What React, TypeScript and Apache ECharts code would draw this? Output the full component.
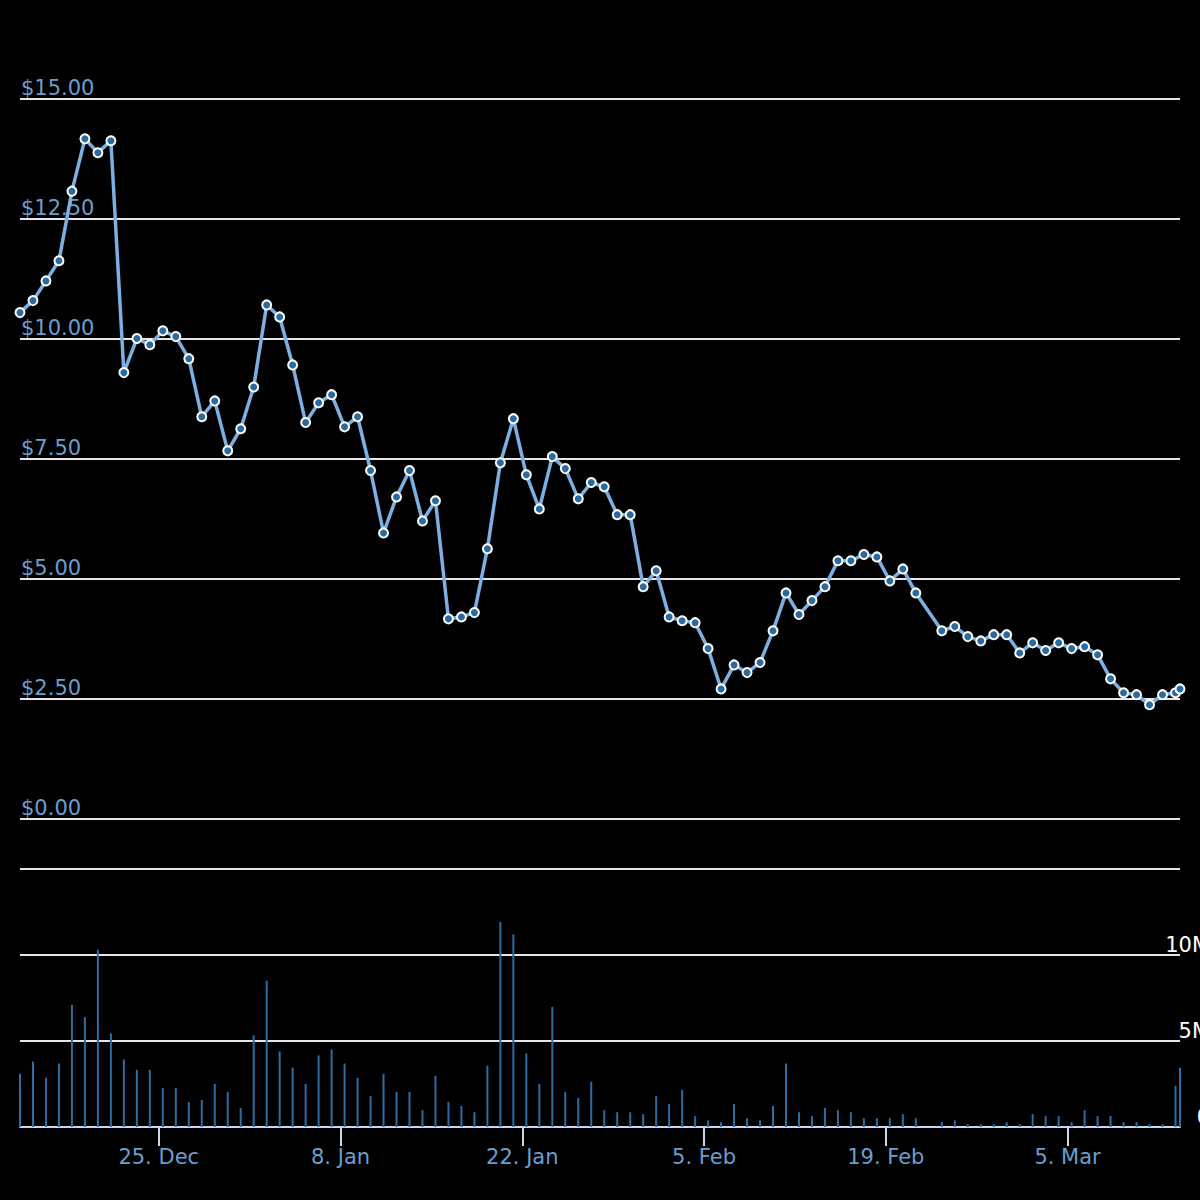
import React, { useEffect, useRef } from "react";
import * as echarts from "echarts";

// Trading timestamps (UTC); Feb 22 missing; last entry is an intraday point
const dates: string[] = [
  "2017-12-14T07:30:00Z", "2017-12-15T07:30:00Z", "2017-12-16T07:30:00Z", "2017-12-17T07:30:00Z",
  "2017-12-18T07:30:00Z", "2017-12-19T07:30:00Z", "2017-12-20T07:30:00Z", "2017-12-21T07:30:00Z",
  "2017-12-22T07:30:00Z", "2017-12-23T07:30:00Z", "2017-12-24T07:30:00Z", "2017-12-25T07:30:00Z",
  "2017-12-26T07:30:00Z", "2017-12-27T07:30:00Z", "2017-12-28T07:30:00Z", "2017-12-29T07:30:00Z",
  "2017-12-30T07:30:00Z", "2017-12-31T07:30:00Z",
  "2018-01-01T07:30:00Z", "2018-01-02T07:30:00Z", "2018-01-03T07:30:00Z", "2018-01-04T07:30:00Z",
  "2018-01-05T07:30:00Z", "2018-01-06T07:30:00Z", "2018-01-07T07:30:00Z", "2018-01-08T07:30:00Z",
  "2018-01-09T07:30:00Z", "2018-01-10T07:30:00Z", "2018-01-11T07:30:00Z", "2018-01-12T07:30:00Z",
  "2018-01-13T07:30:00Z", "2018-01-14T07:30:00Z", "2018-01-15T07:30:00Z", "2018-01-16T07:30:00Z",
  "2018-01-17T07:30:00Z", "2018-01-18T07:30:00Z", "2018-01-19T07:30:00Z", "2018-01-20T07:30:00Z",
  "2018-01-21T07:30:00Z", "2018-01-22T07:30:00Z", "2018-01-23T07:30:00Z", "2018-01-24T07:30:00Z",
  "2018-01-25T07:30:00Z", "2018-01-26T07:30:00Z", "2018-01-27T07:30:00Z", "2018-01-28T07:30:00Z",
  "2018-01-29T07:30:00Z", "2018-01-30T07:30:00Z", "2018-01-31T07:30:00Z",
  "2018-02-01T07:30:00Z", "2018-02-02T07:30:00Z", "2018-02-03T07:30:00Z", "2018-02-04T07:30:00Z",
  "2018-02-05T07:30:00Z", "2018-02-06T07:30:00Z", "2018-02-07T07:30:00Z", "2018-02-08T07:30:00Z",
  "2018-02-09T07:30:00Z", "2018-02-10T07:30:00Z", "2018-02-11T07:30:00Z", "2018-02-12T07:30:00Z",
  "2018-02-13T07:30:00Z", "2018-02-14T07:30:00Z", "2018-02-15T07:30:00Z", "2018-02-16T07:30:00Z",
  "2018-02-17T07:30:00Z", "2018-02-18T07:30:00Z", "2018-02-19T07:30:00Z", "2018-02-20T07:30:00Z",
  "2018-02-21T07:30:00Z",
  "2018-02-23T07:30:00Z", "2018-02-24T07:30:00Z", "2018-02-25T07:30:00Z", "2018-02-26T07:30:00Z",
  "2018-02-27T07:30:00Z", "2018-02-28T07:30:00Z",
  "2018-03-01T07:30:00Z", "2018-03-02T07:30:00Z", "2018-03-03T07:30:00Z", "2018-03-04T07:30:00Z",
  "2018-03-05T07:30:00Z", "2018-03-06T07:30:00Z", "2018-03-07T07:30:00Z", "2018-03-08T07:30:00Z",
  "2018-03-09T07:30:00Z", "2018-03-10T07:30:00Z", "2018-03-11T07:30:00Z", "2018-03-12T07:30:00Z",
  "2018-03-13T07:30:00Z", "2018-03-13T15:50:00Z",
];

// Price in USD
const prices: number[] = [
  10.55, 10.8, 11.21, 11.63, 13.08, 14.17, 13.88, 14.13, 9.3, 10.01,
  9.88, 10.17, 10.05, 9.59, 8.38, 8.71, 7.67, 8.13, 9.0, 10.71,
  10.46, 9.46, 8.26, 8.67, 8.84, 8.17, 8.38, 7.26, 5.96, 6.71,
  7.26, 6.21, 6.63, 4.17, 4.21, 4.3, 5.63, 7.42, 8.34, 7.17,
  6.46, 7.55, 7.3, 6.67, 7.01, 6.92, 6.34, 6.34, 4.84, 5.17,
  4.21, 4.13, 4.09, 3.55, 2.71, 3.21, 3.05, 3.26, 3.92, 4.71,
  4.26, 4.55, 4.84, 5.38, 5.38, 5.51, 5.46, 4.96, 5.21, 4.71,
  3.92, 4.01, 3.8, 3.71, 3.84, 3.84, 3.46, 3.67, 3.51, 3.67,
  3.55, 3.59, 3.42, 2.92, 2.63, 2.59, 2.38, 2.59, 2.63, 2.71,
];

// Volume in millions
const volumes: number[] = [
  3.1, 3.8, 2.86, 3.69, 7.1, 6.39, 10.3, 5.45, 3.92, 3.33,
  3.33, 2.27, 2.27, 1.45, 1.57, 2.51, 2.04, 1.1, 5.33, 8.51,
  4.39, 3.45, 2.51, 4.16, 4.51, 3.69, 2.86, 1.8, 3.1, 2.04,
  2.04, 0.98, 2.98, 1.45, 1.22, 0.86, 3.57, 11.92, 11.2, 4.27,
  2.51, 6.98, 2.04, 1.69, 2.63, 0.98, 0.86, 0.86, 0.75, 1.8,
  1.34, 2.16, 0.63, 0.39, 0.28, 1.34, 0.51, 0.39, 1.22, 3.69,
  0.86, 0.63, 1.1, 0.98, 0.86, 0.51, 0.51, 0.51, 0.75, 0.51,
  0.28, 0.39, 0.16, 0.16, 0.16, 0.28, 0.16, 0.75, 0.63, 0.63,
  0.28, 0.98, 0.63, 0.63, 0.28, 0.28, 0.16, 0.16, 2.39, 3.45,
];

const xTickDates: string[] = ["2017-12-25", "2018-01-08", "2018-01-22", "2018-02-05", "2018-02-19", "2018-03-05"];
const xTickLabels: string[] = ["25. Dec", "8. Jan", "22. Jan", "5. Feb", "19. Feb", "5. Mar"];

const FONT = "DejaVu Sans";
const LABEL_BLUE = "#6a9fcf";
const GRID_COLOR = "#e6e6e6";

export default function App() {
  const ref = useRef<HTMLDivElement>(null);

  useEffect(() => {
    if (!ref.current) return;
    const chart = echarts.init(ref.current, null, { renderer: "svg" });
    const ts = dates.map((d) => Date.parse(d));
    const tickTs = xTickDates.map((d) => Date.parse(d + "T00:00:00Z"));
    const xMin = ts[0];
    const xMax = ts[ts.length - 1];

    chart.setOption({
      animation: false,
      backgroundColor: "#000000",
      textStyle: { fontFamily: FONT },
      grid: [
        { left: 20, width: 1160, top: 99, height: 720, containLabel: false, outerBoundsMode: "none" },
        { left: 20, width: 1160, top: 869, height: 258, containLabel: false, outerBoundsMode: "none" },
      ],
      xAxis: [
        { type: "value", gridIndex: 0, min: xMin, max: xMax, show: false },
        {
          type: "value",
          gridIndex: 1,
          min: xMin,
          max: xMax,
          axisLine: { show: true, lineStyle: { color: "#ccd6eb", width: 2 } },
          axisTick: {
            show: true,
            customValues: tickTs,
            length: 19,
            lineStyle: { color: "#ccd6eb", width: 2 },
          },
          axisLabel: {
            customValues: tickTs,
            formatter: (v: number) => {
              const i = tickTs.indexOf(v);
              return i >= 0 ? xTickLabels[i] : "";
            },
            color: LABEL_BLUE,
            fontSize: 21,
            fontFamily: FONT,
            margin: 19,
          },
          splitLine: { show: false },
        },
      ],
      yAxis: [
        {
          type: "value",
          gridIndex: 0,
          min: 0,
          max: 15,
          interval: 2.5,
          position: "left",
          axisLine: { show: false },
          axisTick: { show: false },
          splitLine: { lineStyle: { color: GRID_COLOR, width: 2 } },
          axisLabel: {
            inside: true,
            margin: 1,
            align: "left",
            verticalAlign: "bottom",
            padding: [0, 0, 1, 0],
            formatter: (v: number) => "$" + v.toFixed(2),
            color: LABEL_BLUE,
            fontSize: 21,
            fontFamily: FONT,
          },
        },
        {
          type: "value",
          gridIndex: 1,
          min: 0,
          max: 15,
          interval: 5,
          position: "right",
          axisLine: { show: false },
          axisTick: { show: false },
          splitLine: { lineStyle: { color: GRID_COLOR, width: 2 } },
          axisLabel: {
            showMaxLabel: false,
            align: "right",
            margin: 30,
            verticalAlign: "bottom",
            padding: [0, 0, 0, 0],
            formatter: (v: number) => (v === 0 ? "0" : v + "M"),
            color: "#ffffff",
            fontSize: 21,
            fontFamily: FONT,
          },
        },
      ],
      series: [
        {
          type: "line",
          xAxisIndex: 0,
          yAxisIndex: 0,
          data: ts.map((t, i) => [t, prices[i]]),
          symbol: "circle",
          symbolSize: 9,
          showAllSymbol: true,
          lineStyle: { color: "#7cb0e2", width: 3.5 },
          itemStyle: { color: "#2a6aa0", borderColor: "#ffffff", borderWidth: 2 },
        },
        {
          type: "bar",
          xAxisIndex: 1,
          yAxisIndex: 1,
          data: ts.map((t, i) => [t, volumes[i]]),
          barWidth: 2,
          itemStyle: { color: "#2e6ca5" },
        },
      ],
    });

    return () => chart.dispose();
  }, []);

  return (
    <div
      ref={ref}
      style={{ position: "absolute", left: 0, top: 0, width: 1200, height: 1200, background: "#000" }}
    />
  );
}
